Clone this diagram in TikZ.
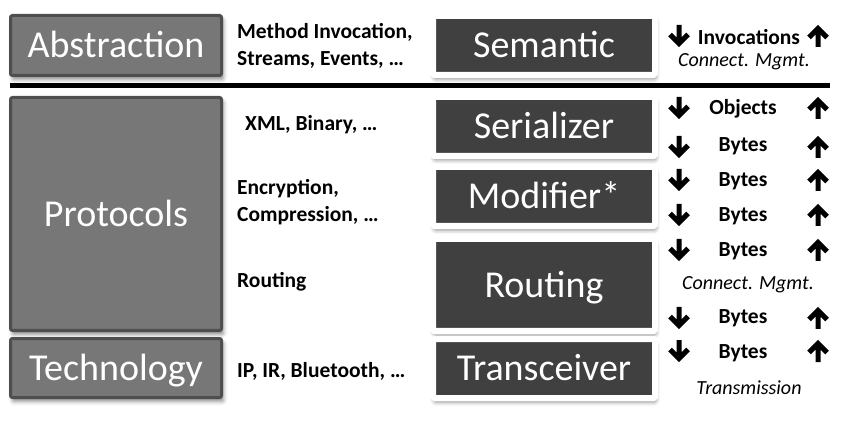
\documentclass[tikz,border=0pt]{standalone}
\usepackage{fontspec}
\setmainfont{Carlito}
\usetikzlibrary{shadows.blur}
\definecolor{boxgray}{HTML}{777777}
\definecolor{boxedge}{HTML}{4E4E4E}
\definecolor{stagedark}{HTML}{404040}
\tikzset{
  darr/.pic={\draw[line width=5pt, line join=miter] (0,-11) -- (0,5) (-9,-1.5) -- (0,7.5) -- (9,-1.5);},
  uarr/.pic={\draw[line width=5pt, line join=miter] (0,11) -- (0,-5) (-9,1.5) -- (0,-7.5) -- (9,1.5);}
}
\begin{document}
\begin{tikzpicture}[x=1pt,y=-1pt,
  layerbox/.style={draw=boxedge, fill=boxgray, line width=3pt, rounded corners=2pt,
    minimum width=211pt, text=white, font=\fontsize{38}{40}\selectfont,
    text height=24.5pt, text depth=0pt, inner sep=0pt,
    blur shadow={shadow xshift=2pt, shadow yshift=-4pt, shadow blur radius=4pt, shadow opacity=45}},
  stagebox/.style={draw=white, fill=stagedark, line width=6pt, rounded corners=1.5pt,
    minimum width=222pt, text=white, font=\fontsize{38}{40}\selectfont,
    text height=24.5pt, text depth=0pt, inner sep=0pt,
    blur shadow={shadow xshift=1pt, shadow yshift=-4pt, shadow blur radius=4pt, shadow opacity=45}},
  desc/.style={font=\fontsize{21.5}{26.5}\selectfont\bfseries, align=left, inner sep=0pt, anchor=west},
  flow/.style={font=\fontsize{21.5}{25}\selectfont\bfseries, inner sep=0pt},
  note/.style={font=\fontsize{20}{24}\selectfont\itshape, inner sep=0pt}
]
\useasboundingbox (0,0) rectangle (856,427);

% left layer boxes
\node[layerbox, minimum height=60pt] (abs) at (116,45.5) {Abstraction};
\node[layerbox, minimum height=233pt] (prot) at (116,214) {Protocols};
\node[layerbox, minimum height=59pt] (tech) at (116,368) {Technology};

% divider
\draw[line width=5pt] (10,85.5) -- (830,85.5);

% descriptions
\node[desc] (dabs) at (237,46) {Method Invocation,\\Streams, Events, …};
\node[desc, anchor=base west] (dser) at (245,131) {XML, Binary, …};
\node[desc] (dmod) at (237,202) {Encryption,\\Compression, …};
\node[desc, anchor=base west] (drout) at (237,288) {Routing};
\node[desc, anchor=base west] (dtech) at (237,377) {IP, IR, Bluetooth, …};

% stage boxes
\node[stagebox, minimum height=59pt] (sem) at (544,45.5) {Semantic};
\node[stagebox, minimum height=59pt] (ser) at (544,126.5) {Serializer};
\node[stagebox, minimum height=59pt] (mod) at (544,196.5) {Modifier*};
\node[stagebox, minimum height=92pt] (rout) at (544,285) {Routing};
\node[stagebox, minimum height=59pt] (trans) at (544,368.5) {Transceiver};

% right column
\node[flow] (f1) at (749,37) {Invocations};
\node[note] (n1) at (744,62) {Connect. Mgmt.};
\node[flow] (f2) at (743,109) {Objects};
\node[flow] (f3) at (743,146) {Bytes};
\node[flow] (f4) at (743,181) {Bytes};
\node[flow] (f5) at (743,216) {Bytes};
\node[flow] (f6) at (743,251) {Bytes};
\node[note] (n2) at (748,285) {Connect. Mgmt.};
\node[flow] (f7) at (743,318) {Bytes};
\node[flow] (f8) at (743,353) {Bytes};
\node[note] (n3) at (749,388) {Transmission};

\foreach \yy in {36,108,147,180,215,250,318,351}{
  \pic at (679,\yy) {darr};
}
\foreach \yy in {36,108,147,180,215,250,318,351}{
  \pic at (818,\yy) {uarr};
}
\end{tikzpicture}
\end{document}
